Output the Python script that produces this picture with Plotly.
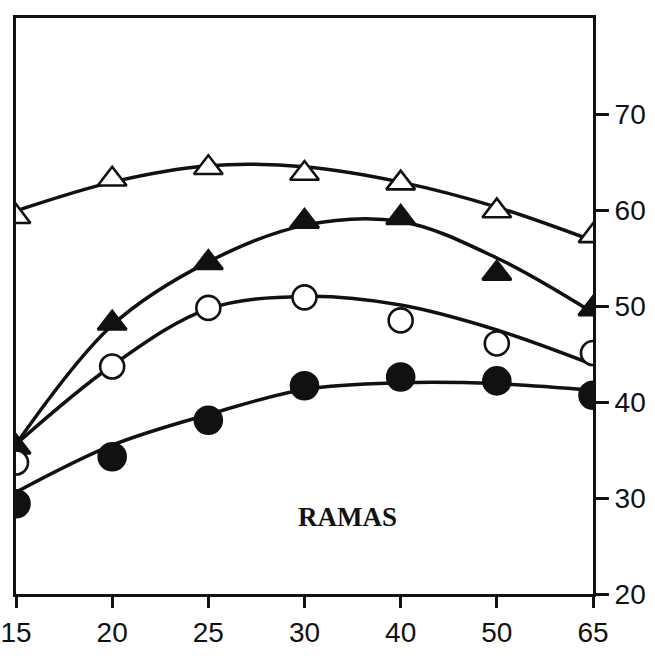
import plotly.graph_objects as go

# Categories on the horizontal axis
edades = ["15", "20", "25", "30", "40", "50", "65"]

# Observed values (four series)
tri_abierto = [59.3, 63.2, 64.4, 63.8, 62.8, 59.9, 57.3]
tri_lleno = [35.3, 48.2, 54.5, 58.8, 59.2, 53.4, 49.7]
circ_abierto = [33.7, 43.7, 49.8, 50.9, 48.5, 46.1, 45.1]
circ_lleno = [29.4, 34.3, 38.1, 41.7, 42.6, 42.2, 40.7]

# Fitted curves evaluated at each category
ajuste_tri_abierto = [59.9, 62.9, 64.6, 64.5, 62.9, 60.3, 56.8]
ajuste_tri_lleno = [35.6, 48.0, 54.6, 58.4, 58.8, 55.0, 49.3]
ajuste_circ_abierto = [35.6, 43.8, 49.7, 51.0, 50.1, 47.5, 43.9]
ajuste_circ_lleno = [30.6, 35.5, 38.7, 41.3, 42.0, 41.9, 41.2]

ticks_y = [20, 30, 40, 50, 60, 70]

INK = "#111111"
LABEL_FONT = "Liberation Sans, Arial, sans-serif"

fig = go.Figure()

for curva in [ajuste_tri_abierto, ajuste_tri_lleno, ajuste_circ_abierto, ajuste_circ_lleno]:
    fig.add_trace(go.Scatter(
        x=edades, y=curva, mode="lines",
        line=dict(color=INK, width=3.5, shape="spline", smoothing=1.0),
        hoverinfo="skip", showlegend=False,
    ))

series = [
    (tri_abierto, "triangle-up", "white", 25),
    (tri_lleno, "triangle-up", INK, 25),
    (circ_abierto, "circle", "white", 24),
    (circ_lleno, "circle", INK, 27),
]
for valores, simbolo, relleno, tam in series:
    fig.add_trace(go.Scatter(
        x=edades, y=valores, mode="markers",
        marker=dict(symbol=simbolo, size=tam, color=relleno,
                    line=dict(color=INK, width=2.6)),
        cliponaxis=True, showlegend=False,
    ))

fig.add_annotation(
    text="<b>RAMAS</b>", xref="paper", yref="paper",
    x=0.575, y=0.134, xanchor="center", yanchor="middle", showarrow=False,
    font=dict(family="Liberation Serif, DejaVu Serif, serif", size=27, color=INK),
)

fig.update_xaxes(
    type="category", range=[0, 6], automargin=False,
    showline=True, mirror=True, linewidth=3, linecolor=INK,
    showgrid=False, zeroline=False,
    ticks="outside", ticklen=11, tickwidth=3, tickcolor=INK,
    tickfont=dict(family=LABEL_FONT, size=28, color=INK),
)
fig.update_yaxes(
    side="right", range=[20, 80], automargin=False,
    tickvals=ticks_y, ticktext=[str(v) for v in ticks_y],
    showline=True, mirror=True, linewidth=3, linecolor=INK,
    showgrid=False, zeroline=False,
    ticks="outside", ticklen=13, tickwidth=3, tickcolor=INK,
    tickfont=dict(family=LABEL_FONT, size=28, color=INK),
)

fig.update_layout(
    width=655, height=656,
    margin=dict(l=16, r=62, t=18, b=62),
    paper_bgcolor="white", plot_bgcolor="white",
)

fig.write_html("out.html")
